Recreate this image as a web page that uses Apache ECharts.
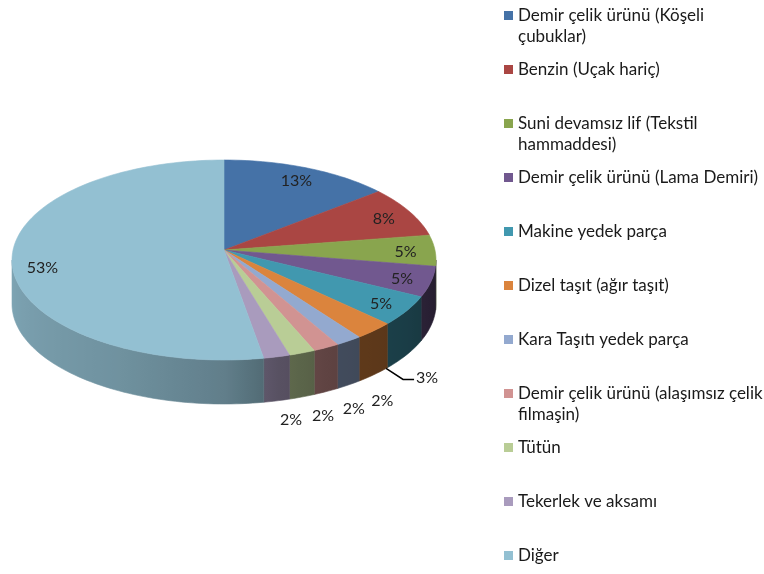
<!DOCTYPE html>
<html>
<head>
<meta charset="utf-8">
<script src="https://cdn.jsdelivr.net/npm/echarts@6/dist/echarts.min.js"></script>
<style>
  html, body { margin: 0; padding: 0; background: #fff; }
  #chart { width: 764px; height: 574px; }
</style>
</head>
<body>
<div id="chart"></div>
<script>
// ---- data ----
const CATEGORIES = [
  'Demir çelik ürünü (Köşeli çubuklar)',
  'Benzin (Uçak hariç)',
  'Suni devamsız lif (Tekstil hammaddesi)',
  'Demir çelik ürünü (Lama Demiri)',
  'Makine yedek parça',
  'Dizel taşıt (ağır taşıt)',
  'Kara Taşıtı yedek parça',
  'Demir çelik ürünü (alaşımsız çelik filmaşin)',
  'Tütün',
  'Tekerlek ve aksamı',
  'Diğer'
];
const VALUES = [13, 8, 5, 5, 5, 3, 2, 2, 2, 2, 53];
const COLORS = ['#4572A7', '#AA4643', '#89A54E', '#71588F', '#4198AF', '#DB843D',
                '#93A9CF', '#D19392', '#B9CD96', '#A99BBD', '#93C0D2'];

const FONT = 'Lato, "Open Sans", sans-serif';

// ---- pseudo-3D pie layout ----
const CX = 224, CY = 260, RX = 212, RY = 100, DEPTH = 44, HUB_DY = -10;
const TOTAL = VALUES.reduce((s, v) => s + v, 0);
const STARTS = [];
(function () { let acc = 0; VALUES.forEach(v => { STARTS.push(acc); acc += v; }); })();

// side brightness by angle (clockwise from 12 o'clock)
const SHADE = [[90, 0.32], [120, 0.40], [150, 0.45], [165, 0.52], [180, 0.66], [210, 0.76], [270, 0.86]];
function shadeAt(a) {
  for (let k = 1; k < SHADE.length; k++) {
    if (a <= SHADE[k][0]) {
      const t = (a - SHADE[k - 1][0]) / (SHADE[k][0] - SHADE[k - 1][0]);
      return SHADE[k - 1][1] + t * (SHADE[k][1] - SHADE[k - 1][1]);
    }
  }
  return SHADE[SHADE.length - 1][1];
}
function darken(hex, f) {
  const n = parseInt(hex.slice(1), 16);
  const r = Math.round(((n >> 16) & 255) * f), g = Math.round(((n >> 8) & 255) * f), b = Math.round((n & 255) * f);
  return `rgb(${r},${g},${b})`;
}
function rim(a, r, dy) {
  const rad = a * Math.PI / 180;
  return [CX + RX * r * Math.sin(rad), CY + dy - RY * r * Math.cos(rad)];
}
function arcAngles(a0, a1) {
  const out = [];
  for (let a = a0; a < a1; a += 1.5) out.push(a);
  out.push(a1);
  return out;
}

const FIRST_OUTSIDE = VALUES.findIndex(v => v / TOTAL * 100 < 4);

function renderSlice(params, api) {
  const i = params.dataIndex;
  const v = api.value(0);
  const a0 = STARTS[i] / TOTAL * 360;
  const a1 = a0 + v / TOTAL * 360;
  const color = COLORS[i];
  const children = [];

  // outer wall (front half only)
  const b0 = Math.max(a0, 90), b1 = Math.min(a1, 270);
  if (b1 > b0) {
    const angs = arcAngles(b0, b1);
    const upper = angs.map(a => rim(a, 1, 0));
    const lower = angs.map(a => rim(a, 1, DEPTH)).reverse();
    const xs = upper.map(p => p[0]);
    const xmin = Math.min(...xs), xmax = Math.max(...xs);
    const stops = angs.map((a, k) => ({
      offset: xmax > xmin ? (upper[k][0] - xmin) / (xmax - xmin) : 0,
      color: darken(color, shadeAt(a))
    })).sort((p, q) => p.offset - q.offset);
    const grad = new echarts.graphic.LinearGradient(0, 0, 1, 0, stops);
    children.push({
      type: 'polygon',
      shape: { points: upper.concat(lower) },
      style: { fill: grad, stroke: grad, lineWidth: 0.6 }
    });
  }

  // top face
  const pts = [[CX, CY + HUB_DY]].concat(arcAngles(a0, a1).map(a => rim(a, 1, 0)));
  children.push({
    type: 'polygon',
    shape: { points: pts },
    style: { fill: color, stroke: color, lineWidth: 0.6 }
  });

  // percentage label
  const pct = Math.round(v / TOTAL * 100) + '%';
  const mid = (a0 + a1) / 2;
  const txt = { fill: '#222', font: '16px ' + FONT, text: pct, align: 'center', verticalAlign: 'middle' };
  if (v / TOTAL * 100 >= 4) {
    const p = rim(mid, 0.86, 0);
    children.push({ type: 'text', z2: 20, style: Object.assign({ x: p[0], y: p[1] }, txt) });
  } else if (i === FIRST_OUTSIDE) {
    const p0 = rim(a0 + (a1 - a0) * 0.05, 1, DEPTH);
    const p1 = [p0[0] + 17, p0[1] + 11];
    const p2 = [p1[0] + 11, p1[1]];
    children.push({
      type: 'polyline', z2: 20,
      shape: { points: [p0, p1, p2] },
      style: { stroke: '#000', lineWidth: 1.5, fill: null }
    });
    children.push({ type: 'text', z2: 20, style: Object.assign({}, txt, { x: p2[0] + 2, y: p2[1] - 2, align: 'left' }) });
  } else {
    const rad = mid * Math.PI / 180;
    const x = CX + RX * 1.27 * Math.sin(rad);
    const y = CY + DEPTH - RY * 1.2 * Math.cos(rad);
    children.push({ type: 'text', z2: 20, style: Object.assign({ x, y }, txt) });
  }
  return { type: 'group', children };
}

// legend wraps long names like Excel does
function wrapName(name, max) {
  const words = name.split(' ');
  const lines = [];
  let cur = '';
  words.forEach(w => {
    const next = cur ? cur + ' ' + w : w;
    if (next.length > max && cur) { lines.push(cur); cur = w; } else cur = next;
  });
  if (cur) lines.push(cur);
  return lines;
}

const chart = echarts.init(document.getElementById('chart'), null, { renderer: 'canvas' });
chart.setOption({
  animation: false,
  backgroundColor: '#fff',
  color: COLORS,
  legend: {
    orient: 'vertical',
    left: 504,
    top: -16,
    height: 700,
    padding: 0,
    itemGap: -9,
    itemWidth: 9,
    itemHeight: 9,
    icon: 'rect',
    selectedMode: false,
    textStyle: { fontFamily: FONT, fontSize: 17, color: '#1a1a1a', lineHeight: 21 },
    formatter: name => {
      const lines = wrapName(name, 34);
      return '\n' + lines.join('\n') + (lines.length === 1 ? '\n' : '');
    },
    data: CATEGORIES
  },
  series: [
    {
      // carries the legend entries; the pie itself is drawn by the custom series
      type: 'pie',
      radius: [0, 0],
      silent: true,
      label: { show: false },
      labelLine: { show: false },
      data: CATEGORIES.map((n, i) => ({ name: n, value: VALUES[i] }))
    },
    {
      type: 'custom',
      coordinateSystem: 'none',
      silent: true,
      renderItem: renderSlice,
      data: VALUES.map((v, i) => ({ name: CATEGORIES[i], value: [v] }))
    }
  ]
});
</script>
</body>
</html>
